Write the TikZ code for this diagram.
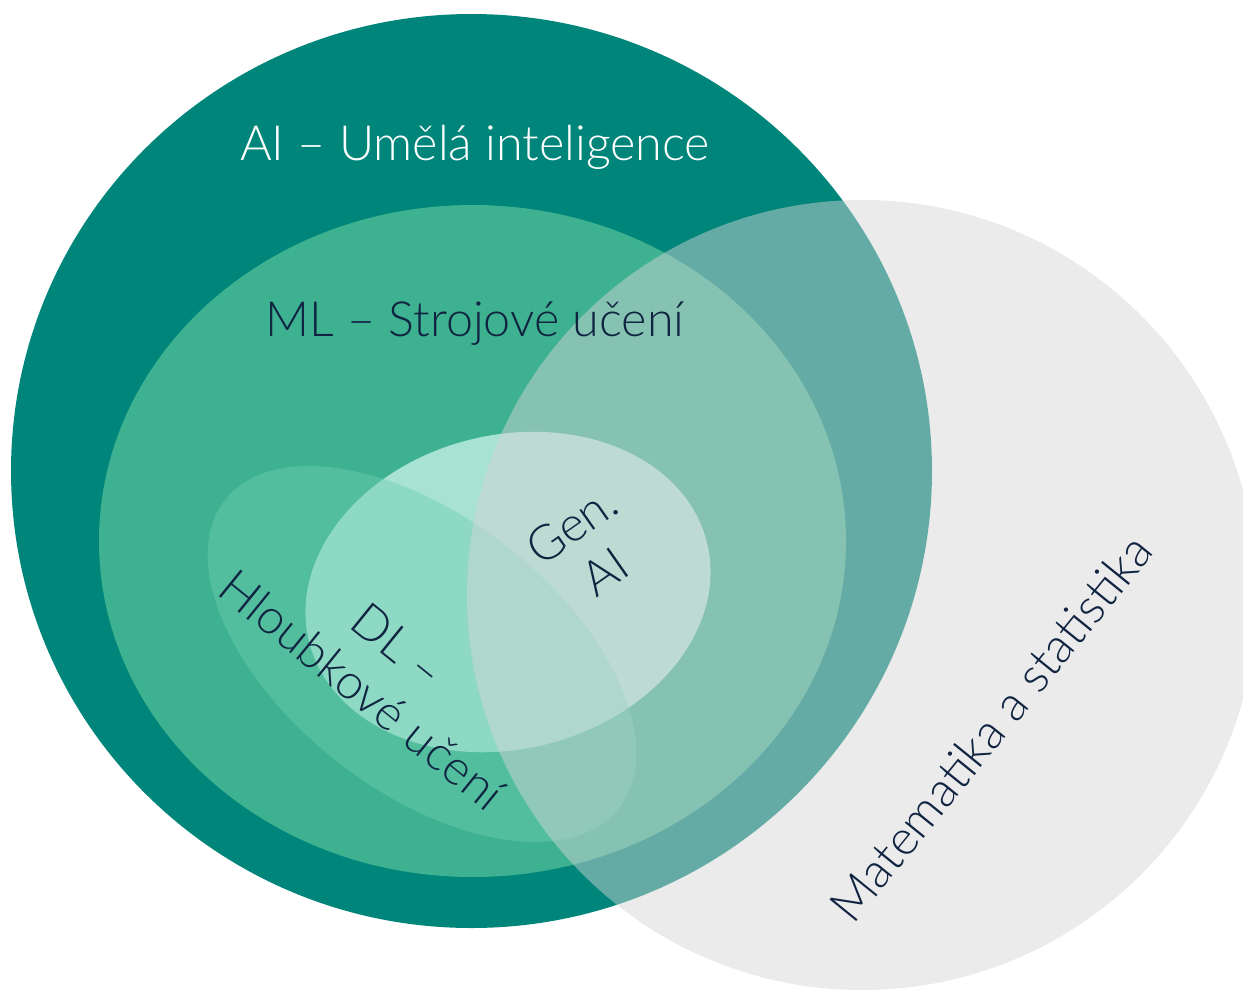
\documentclass[tikz,border=0pt]{standalone}
\usepackage{fontspec}
\IfFontExistsTF{Lato Light}{\setmainfont{Lato Light}}{%
  \IfFontExistsTF{Open Sans Light}{\setmainfont{Open Sans Light}}{\setmainfont{Lato}}}
\definecolor{aiteal}{RGB}{0,133,122}
\definecolor{mlgreen}{RGB}{61,177,144}
\definecolor{genai}{RGB}{168,226,211}
\definecolor{dlcol}{RGB}{109,207,176}
\definecolor{mathgray}{RGB}{213,213,213}
\definecolor{navy}{RGB}{16,36,66}
\tikzset{
  lbl/.style={font=\fontsize{48.5}{57}\selectfont, text=navy, inner sep=0pt, align=center},
}
\begin{document}
\begin{tikzpicture}[x=1pt,y=1pt]
\useasboundingbox (0,0) rectangle (1243,-989);
\clip (0,0) rectangle (1243,-989);
% AI
\fill[aiteal] (471.5,-471) ellipse [x radius=460.5pt, y radius=457pt];
% ML
\fill[mlgreen] (472.5,-541) ellipse [x radius=373.5pt, y radius=336pt];
% Gen AI
\begin{scope}[shift={(508,-592)},rotate=14]
\fill[genai] (0,0) ellipse [x radius=205pt, y radius=157pt];
\end{scope}
% DL
\begin{scope}[shift={(422,-654)},rotate=-38]
\fill[dlcol, fill opacity=0.44] (0,0) ellipse [x radius=250pt, y radius=137pt];
\end{scope}
% Math
\fill[mathgray, fill opacity=0.48] (862,-595) circle [radius=395pt];
% labels
\node[lbl, text=white, anchor=base] (ai) at (475,-160) {AI – Umělá inteligence};
\node[lbl, anchor=base] (ml) at (475,-336) {ML – Strojové učení};
\node[lbl, rotate=35] (gen) at (588,-548) {Gen.\\AI};
\node[lbl, rotate=-39] (dl) at (380,-668) {DL –\\Hloubkové učení};
\node[lbl, rotate=51] (mat) at (991,-728) {Matematika a statistika};
\end{tikzpicture}
\end{document}
